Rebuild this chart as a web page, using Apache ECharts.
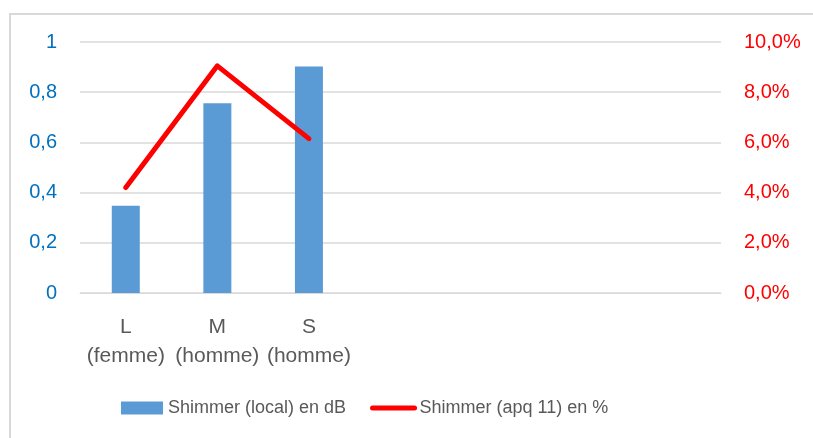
<!DOCTYPE html>
<html>
<head>
<meta charset="utf-8">
<script src="https://cdn.jsdelivr.net/npm/echarts@6/dist/echarts.min.js"></script>
<style>html,body{margin:0;padding:0;background:#fff;}#c{width:813px;height:438px;}</style>
</head>
<body>
<div id="c"></div>
<script>
var categories = ['L\n(femme)', 'M\n(homme)', 'S\n(homme)', '', '', '', ''];
var shimmerLocalDb = [0.348, 0.756, 0.902, null, null, null, null];
var shimmerApq11Pct = [4.2, 9.05, 6.15, null, null, null, null];
var leftTicks = [0, 0.2, 0.4, 0.6, 0.8, 1];
var rightTicks = [0, 2, 4, 6, 8, 10];
var seriesNames = ['Shimmer (local) en dB', 'Shimmer (apq 11) en %'];

var FONT = '"Liberation Sans", Arial, sans-serif';
var chart = echarts.init(document.getElementById('c'), null, {renderer: 'canvas'});
chart.setOption({
  animation: false,
  backgroundColor: '#ffffff',
  textStyle: {fontFamily: FONT},
  graphic: [{
    type: 'rect', silent: true,
    shape: {x: 10, y: 14, width: 900, height: 500},
    style: {fill: 'none', stroke: '#D9D9D9', lineWidth: 2}
  }],
  grid: {left: 80, right: 92, top: 42, bottom: 145, containLabel: false},
  legend: {
    left: 116, top: 394,
    itemGap: 24,
    itemWidth: 42,
    itemHeight: 13,
    textStyle: {color: '#595959', fontSize: 18, fontFamily: FONT},
    data: [
      {name: seriesNames[0], icon: 'rect', itemStyle: {color: '#5B9BD5'}},
      {name: seriesNames[1], itemStyle: {opacity: 0},
       lineStyle: {color: '#FF0000', width: 5, cap: 'round', opacity: 1}}
    ]
  },
  xAxis: {
    type: 'category',
    data: categories,
    boundaryGap: true,
    axisLine: {show: true, lineStyle: {color: '#D9D9D9', width: 1}},
    axisTick: {show: false},
    axisLabel: {color: '#595959', fontSize: 21, lineHeight: 29, margin: 20, interval: 0, fontFamily: FONT},
    splitLine: {show: false}
  },
  yAxis: [{
    type: 'value', min: 0, max: 1, interval: 0.2,
    axisLine: {show: false}, axisTick: {show: false},
    axisLabel: {color: '#0070C0', fontSize: 20, margin: 23, fontFamily: FONT,
      formatter: function (v) { return String(Math.round(v * 10) / 10).replace('.', ','); }},
    splitLine: {show: true, lineStyle: {color: '#D9D9D9', width: 1.5}}
  }, {
    type: 'value', min: 0, max: 10, interval: 2,
    axisLine: {show: false}, axisTick: {show: false},
    axisLabel: {color: '#FF0000', fontSize: 20, margin: 23, fontFamily: FONT,
      formatter: function (v) { return v.toFixed(1).replace('.', ',') + '%'; }},
    splitLine: {show: false}
  }],
  series: [{
    name: seriesNames[0], type: 'bar', data: shimmerLocalDb, yAxisIndex: 0,
    barWidth: 28, itemStyle: {color: '#5B9BD5'}
  }, {
    name: seriesNames[1], type: 'line', data: shimmerApq11Pct, yAxisIndex: 1,
    symbol: 'none', connectNulls: false,
    lineStyle: {color: '#FF0000', width: 5, cap: 'round', join: 'round'},
    itemStyle: {color: '#FF0000'}
  }]
});
</script>
</body>
</html>
